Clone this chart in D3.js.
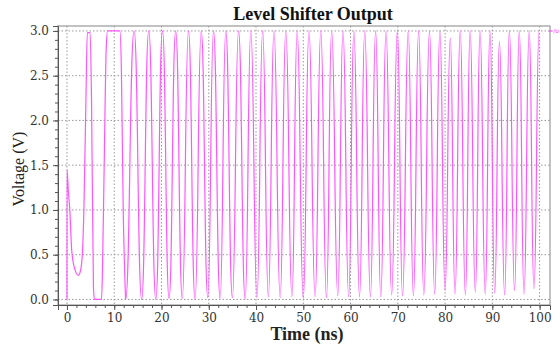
<!DOCTYPE html>
<html>
<head>
<meta charset="utf-8">
<script src="https://cdn.jsdelivr.net/npm/d3@7"></script>
<style>
  body { margin: 0; background: #fff; }
  .tick text { font-family: "DejaVu Serif", serif; font-size: 12px; fill: #333; }
  .grid line { stroke: #999; stroke-dasharray: 1.5,2; }
</style>
</head>
<body>
<div id="chart"></div>
<script>
// startup transient (ns, V)
var startT = [0, 0.01, 0.3, 0.6, 1.0, 1.7, 2.4, 2.9, 3.3, 3.6, 4.0, 4.3, 4.9, 5.2, 5.6, 5.8, 7.3, 7.5, 7.9, 8.3, 8.6, 11.2, 11.5, 11.9, 12.4];
var startV = [0, 1.45, 1.2, 1.0, 0.55, 0.33, 0.27, 0.33, 0.55, 1.05, 2.2, 2.98, 2.98, 2.2, 0.14, 0.0, 0.0, 0.3, 1.6, 2.8, 3.0, 3.0, 2.6, 1.0, 0.0];

// oscillation extremes
var troughT = [12.4, 15.8, 18.8, 21.6, 24.4, 27.1, 29.8, 32.4, 35.0, 37.7, 40.2, 42.6, 45.1, 47.6, 50.0, 52.5, 54.9, 57.3, 59.6, 61.9, 64.2, 66.4, 68.7, 71.0, 73.3, 75.5, 77.8, 80.0, 82.1, 84.3, 86.4, 88.5, 90.5, 92.6, 94.7, 96.7, 98.8];
var troughV = [0.0, 0.0, 0.0, 0.01, 0.01, 0.0, 0.02, 0.01, 0.02, 0.0, 0.02, 0.03, 0.02, 0.03, 0.01, 0.03, 0.02, 0.04, 0.03, 0.03, 0.03, 0.03, 0.05, 0.04, 0.04, 0.05, 0.06, 0.1, 0.06, 0.05, 0.08, 0.06, 0.07, 0.05, 0.1, 0.06, 0.12];
var peakT = [14.2, 17.3, 20.2, 23.0, 25.7, 28.4, 31.0, 33.6, 36.3, 38.9, 41.4, 43.8, 46.3, 48.7, 51.2, 53.7, 56.0, 58.4, 60.7, 63.0, 65.3, 67.5, 69.9, 72.2, 74.4, 76.7, 78.9, 81.1, 83.2, 85.3, 87.4, 89.5, 91.5, 93.6, 95.7, 97.8, 99.9];
var peakV = [3.0, 3.0, 3.0, 3.0, 3.0, 3.0, 3.0, 3.0, 3.0, 3.0, 3.0, 3.0, 3.0, 3.0, 3.0, 3.0, 3.0, 3.0, 3.0, 3.0, 3.0, 3.0, 3.0, 3.0, 3.0, 3.0, 3.0, 2.92, 3.0, 3.0, 3.0, 3.0, 2.88, 3.0, 3.0, 3.0, 3.0];

var xTicks = [0, 10, 20, 30, 40, 50, 60, 70, 80, 90, 100];
var yTicks = [0.0, 0.5, 1.0, 1.5, 2.0, 2.5, 3.0];

var W = 560, H = 346;
var margin = {top: 26, right: 10, bottom: 41, left: 58};
var width = W - margin.left - margin.right,
    height = H - margin.top - margin.bottom;

var svg = d3.select("#chart").append("svg")
    .attr("width", W)
    .attr("height", H);

var x = d3.scaleLinear().domain([-1.9, 102.2]).range([0, width]);
var y = d3.scaleLinear().domain([-0.062, 3.055]).range([height, 0]);

var g = svg.append("g").attr("transform", "translate(" + margin.left + "," + margin.top + ")");

// grid
g.append("g").attr("class", "grid")
  .selectAll("line").data(xTicks).enter().append("line")
  .attr("x1", function(d) { return x(d); }).attr("x2", function(d) { return x(d); })
  .attr("y1", 0).attr("y2", height);
g.append("g").attr("class", "grid")
  .selectAll("line").data(yTicks).enter().append("line")
  .attr("y1", function(d) { return y(d); }).attr("y2", function(d) { return y(d); })
  .attr("x1", 0).attr("x2", width);

// trace
var startPts = startT.map(function(t, i) { return [t, startV[i]]; });
var osc = [];
troughT.forEach(function(t, i) { osc.push([t, troughV[i]]); });
peakT.forEach(function(t, i) { osc.push([t, peakV[i]]); });
osc.sort(function(a, b) { return a[0] - b[0]; });

var line = d3.line()
  .x(function(d) { return x(d[0]); })
  .y(function(d) { return y(d[1]); });

g.append("path")
  .datum(startPts)
  .attr("fill", "none")
  .attr("stroke", "#ff55ff")
  .attr("stroke-width", 1.2)
  .attr("d", line.curve(d3.curveMonotoneX));

g.append("path")
  .datum(osc)
  .attr("fill", "none")
  .attr("stroke", "#ff55ff")
  .attr("stroke-width", 1.2)
  .attr("d", line.curve(d3.curveBumpX));

// frame
g.append("rect")
  .attr("width", width).attr("height", height)
  .attr("fill", "none").attr("stroke", "#999").attr("stroke-width", 1.2);

// axes: minor ticks then major
var minorX = d3.range(0, 101, 2), minorY = d3.range(0, 3.01, 0.1);
g.append("g")
  .attr("transform", "translate(0," + height + ")")
  .call(d3.axisBottom(x).tickValues(minorX).tickSize(3).tickFormat(""))
  .call(function(a) { a.select(".domain").remove(); a.selectAll("line").attr("stroke", "#555"); });
g.append("g")
  .call(d3.axisLeft(y).tickValues(minorY).tickSize(3).tickFormat(""))
  .call(function(a) { a.select(".domain").remove(); a.selectAll("line").attr("stroke", "#555"); });

g.append("g")
  .attr("transform", "translate(0," + height + ")")
  .call(d3.axisBottom(x).tickValues(xTicks).tickSize(5).tickPadding(3).tickFormat(d3.format("d")))
  .call(function(a) { a.select(".domain").attr("stroke", "#555"); a.selectAll("line").attr("stroke", "#555"); });
g.append("g")
  .call(d3.axisLeft(y).tickValues(yTicks).tickSize(5).tickPadding(4).tickFormat(d3.format(".1f")))
  .call(function(a) { a.select(".domain").attr("stroke", "#555"); a.selectAll("line").attr("stroke", "#555"); });

// titles
svg.append("text")
  .attr("x", 313).attr("y", 20)
  .attr("text-anchor", "middle")
  .style("font-family", "Liberation Serif, serif")
  .style("font-weight", "bold").style("font-size", "18px")
  .attr("fill", "#111")
  .text("Level Shifter Output");

svg.append("text")
  .attr("x", 307).attr("y", 340)
  .attr("text-anchor", "middle")
  .style("font-family", "Liberation Serif, serif")
  .style("font-weight", "bold").style("font-size", "18px")
  .attr("fill", "#222")
  .text("Time (ns)");

svg.append("text")
  .attr("transform", "translate(24,169) rotate(-90)")
  .attr("text-anchor", "middle")
  .style("font-family", "Liberation Serif, serif")
  .style("font-size", "16px")
  .attr("fill", "#222")
  .text("Voltage (V)");

// legend stub at top right
svg.append("text")
  .attr("x", 559).attr("y", 33)
  .attr("text-anchor", "end")
  .style("font-family", "DejaVu Sans, sans-serif")
  .style("font-size", "6px")
  .attr("fill", "#ff44ff")
  .text("=/o");
</script>
</body>
</html>
